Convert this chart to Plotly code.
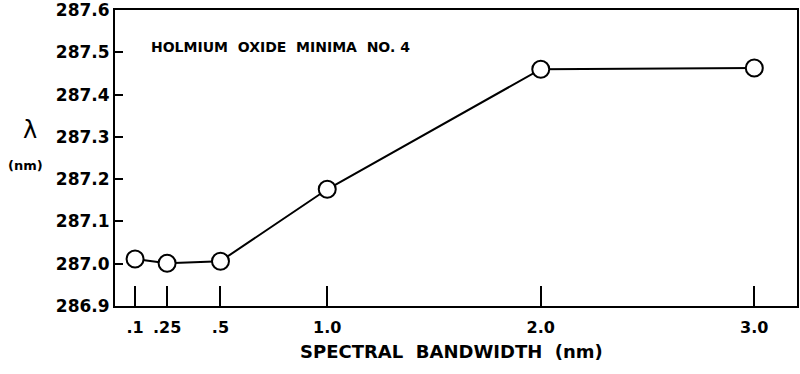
import plotly.graph_objects as go

bandwidth = [0.1, 0.25, 0.5, 1.0, 2.0, 3.0]
wavelength = [287.011, 287.001, 287.006, 287.176, 287.460, 287.463]
x_tick_vals = [0.1, 0.25, 0.5, 1.0, 2.0, 3.0]
x_tick_text = [".1", ".25", ".5", "1.0", "2.0", "3.0"]
y_tick_vals = [286.9, 287.0, 287.1, 287.2, 287.3, 287.4, 287.5, 287.6]
y_tick_text = ["286.9", "287.0", "287.1", "287.2", "287.3", "287.4", "287.5", "287.6"]
chart_title = "HOLMIUM  OXIDE  MINIMA  NO. 4"
x_title = "SPECTRAL  BANDWIDTH  (nm)"

FONT = "DejaVu Sans"

fig = go.Figure()
fig.add_trace(go.Scatter(
    x=bandwidth, y=wavelength, mode="lines+markers",
    line=dict(color="black", width=2),
    marker=dict(symbol="circle", size=17, color="white",
                line=dict(color="black", width=2)),
    showlegend=False,
))

fig.update_layout(
    width=800, height=374,
    margin=dict(l=115, r=3, t=10, b=68),
    paper_bgcolor="white", plot_bgcolor="white",
    font=dict(family=FONT, color="black"),
    xaxis=dict(
        range=[0.006, 3.2], tickvals=x_tick_vals, ticktext=x_tick_text,
        ticks="inside", ticklen=20, tickwidth=2, tickcolor="black",
        showline=True, mirror=True, linecolor="black", linewidth=2,
        showgrid=False, zeroline=False, automargin=False,
        tickfont=dict(family=FONT, size=16, color="black", weight="bold"),
        ticklabelstandoff=6,
    ),
    yaxis=dict(
        range=[286.9, 287.6], tickvals=y_tick_vals, ticktext=y_tick_text,
        ticks="inside", ticklen=8, tickwidth=2, tickcolor="black",
        showline=True, mirror=True, linecolor="black", linewidth=2,
        showgrid=False, zeroline=False, automargin=False,
        ticklabeloverflow="allow",
        tickfont=dict(family=FONT, size=17, color="black", weight="bold"),
    ),
    annotations=[
        dict(text=chart_title, xref="paper", yref="paper", x=0.05, y=0.875,
             xanchor="left", yanchor="middle", showarrow=False,
             font=dict(family=FONT, size=14, color="black", weight="bold")),
        dict(text=x_title, xref="paper", yref="paper", x=0.494, y=-0.155,
             xanchor="center", yanchor="middle", showarrow=False,
             font=dict(family=FONT, size=18, color="black", weight="bold")),
        dict(text="λ", xref="paper", yref="paper", x=-0.125, y=0.595,
             xanchor="center", yanchor="middle", showarrow=False,
             font=dict(family=FONT, size=24, color="black")),
        dict(text="(nm)", xref="paper", yref="paper", x=-0.1305, y=0.476,
             xanchor="center", yanchor="middle", showarrow=False,
             font=dict(family=FONT, size=13, color="black", weight="bold")),
    ],
)

# remove the browser's default 8px page margin so the figure fills the window
fig.write_html("out.html", config={"displayModeBar": False},
               post_script="document.body.style.margin='0';")
